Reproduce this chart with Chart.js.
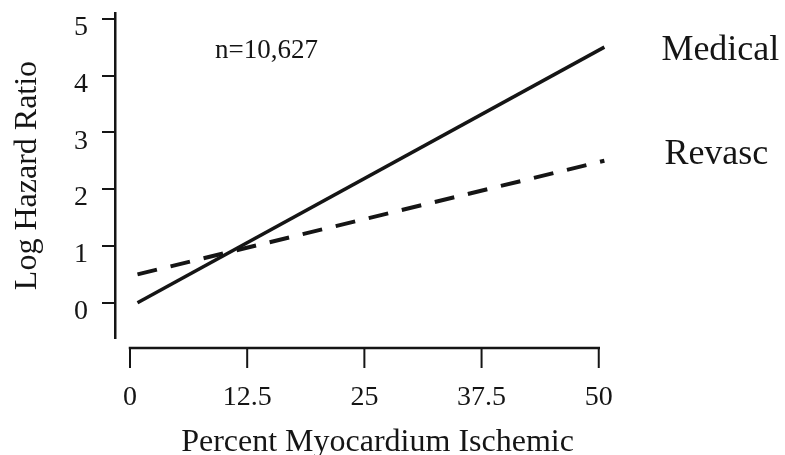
<!DOCTYPE html>
<html>
<head>
<meta charset="utf-8">
<script src="https://cdn.jsdelivr.net/npm/chart.js@4"></script>
<style>
	body { margin: 0; background: #fff; }
	canvas { display: block; }
</style>
</head>
<body>
<canvas id="plot" width="785" height="455"></canvas>
<script>
const series_names = ['Medical', 'Revasc'];
const medical_x = [0.8, 50.6];
const medical_y = [0.0, 4.5];
const revasc_x = [0.8, 50.6];
const revasc_y = [0.5, 2.5];
const x_ticks = [0, 12.5, 25, 37.5, 50];
const x_tick_labels = ['0', '12.5', '25', '37.5', '50'];
const y_ticks = [0, 1, 2, 3, 4, 5];
const note = 'n=10,627';

const ink = '#151515';
const serif = '"Liberation Serif", "DejaVu Serif", serif';

function toPoints(xs, ys)
{
	return xs.map((x, i) => ({ x: x, y: ys[i] }));
}

// R style bottom axis (detached from the box) plus the text labels
const extras =
{
	id: 'extras',
	afterDraw(chart)
	{
		const ctx = chart.ctx;
		const area = chart.chartArea;
		const xs = chart.scales.x;
		const y0 = area.bottom + 10;

		ctx.save();
		ctx.strokeStyle = ink;
		ctx.lineWidth = 2.5;
		ctx.lineCap = 'square';
		ctx.beginPath();
		ctx.moveTo(xs.getPixelForValue(x_ticks[0]), y0);
		ctx.lineTo(xs.getPixelForValue(x_ticks[x_ticks.length - 1]), y0);
		ctx.stroke();

		ctx.lineWidth = 2;
		ctx.lineCap = 'butt';
		for (const t of x_ticks)
		{
			const px = xs.getPixelForValue(t);
			ctx.beginPath();
			ctx.moveTo(px, y0);
			ctx.lineTo(px, y0 + 20);
			ctx.stroke();
		}

		const offs = [{ dx: 57, dy: 13 }, { dx: 60, dy: 3 }];
		ctx.fillStyle = ink;
		ctx.textAlign = 'left';
		ctx.textBaseline = 'alphabetic';
		ctx.font = '36px ' + serif;
		for (let i = 0; i < series_names.length; ++i)
		{
			const pts = chart.getDatasetMeta(i).data;
			const last = pts[pts.length - 1];
			ctx.fillText(series_names[i], last.x + offs[i].dx, last.y + offs[i].dy);
		}

		ctx.font = '27px ' + serif;
		ctx.fillText(note, area.left + 100, area.top + 45);
		ctx.restore();
	}
};

const config =
{
	type: 'line',
	data:
	{
		datasets:
		[
			{
				label: series_names[0],
				data: toPoints(medical_x, medical_y),
				borderColor: ink,
				borderWidth: 3.5,
				pointRadius: 0,
				fill: false
			},
			{
				label: series_names[1],
				data: toPoints(revasc_x, revasc_y),
				borderColor: ink,
				borderWidth: 4,
				borderDash: [20, 14],
				pointRadius: 0,
				fill: false
			}
		]
	},
	options:
	{
		responsive: false,
		animation: false,
		devicePixelRatio: 1,
		layout: { padding: { top: 13, right: 145, left: 0, bottom: 0 } },
		plugins:
		{
			legend: { display: false },
			tooltip: { enabled: false }
		},
		scales:
		{
			x:
			{
				type: 'linear',
				min: -1.6,
				max: 54.4,
				afterFit(scale)
				{
					scale.height = 117;
					scale.paddingLeft = 0;
					scale.paddingRight = 0;
				},
				afterBuildTicks(scale) { scale.ticks = x_ticks.map(v => ({ value: v })); },
				grid: { display: false, drawTicks: false },
				border: { display: false },
				ticks:
				{
					autoSkip: false,
					maxRotation: 0,
					padding: 43,
					color: ink,
					font: { family: serif, size: 28 },
					callback: (v) => x_tick_labels[x_ticks.indexOf(v)]
				},
				title:
				{
					display: true,
					text: 'Percent Myocardium Ischemic',
					color: ink,
					font: { family: serif, size: 32, lineHeight: 0.8 },
					padding: { top: 0, bottom: 0 }
				}
			},
			y:
			{
				type: 'linear',
				min: -0.62,
				max: 5.1,
				afterFit(scale)
				{
					scale.width = 115;
					scale.paddingTop = 0;
					scale.paddingBottom = 0;
				},
				afterBuildTicks(scale) { scale.ticks = y_ticks.map(v => ({ value: v })); },
				grid:
				{
					drawOnChartArea: false,
					drawTicks: true,
					tickLength: 13,
					color: ink,
					lineWidth: 2
				},
				border: { display: true, color: ink, width: 2.5 },
				ticks:
				{
					padding: 14,
					labelOffset: 9,
					color: ink,
					font: { family: serif, size: 28 }
				},
				title:
				{
					display: true,
					text: 'Log Hazard Ratio',
					color: ink,
					font: { family: serif, size: 32 },
					padding: { top: 8, bottom: 0 }
				}
			}
		}
	},
	plugins: [extras]
};

const plot = new Chart(document.getElementById('plot').getContext('2d'), config);
</script>
</body>
</html>
